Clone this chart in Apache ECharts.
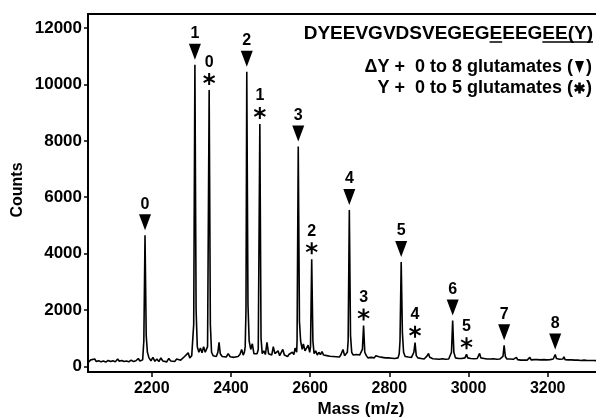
<!DOCTYPE html>
<html>
<head>
<meta charset="utf-8">
<script src="https://cdn.jsdelivr.net/npm/echarts@6/dist/echarts.min.js"></script>
<style>html,body{margin:0;padding:0;background:#fff}#c{width:596px;height:417px}</style>
</head>
<body>
<div id="c"></div>
<script>
// ---- data ----
const massTicks = [2200, 2400, 2600, 2800, 3000, 3200];
const countTicks = [0, 2000, 4000, 6000, 8000, 10000, 12000];

// ΔY + n glutamates (triangles)
const triMass   = [2183, 2309, 2440, 2570, 2699, 2830, 2960, 3090, 3219];
const triCounts = [4650, 10700, 10450, 7800, 5550, 3700, 1630, 750, 420];
const triLabels = ['0', '1', '2', '3', '4', '5', '6', '7', '8'];

// Y + n glutamates (asterisks)
const starMass   = [2345, 2473, 2604, 2735, 2865, 2995];
const starCounts = [9800, 8600, 3800, 1450, 840, 430];
const starLabels = ['0', '1', '2', '3', '4', '5'];

// spectrum trace [mass, counts]
const spectrum = [
[2040,150],[2046,230],[2050,180],[2056,260],[2060,170],[2066,200],[2072,160],[2078,190],[2084,150],[2090,210],[2096,170],[2102,200],[2108,160],[2114,260],[2118,180],[2124,210],[2130,170],[2136,190],[2142,160],[2148,220],[2154,170],[2160,200],[2166,280],[2170,190],[2174,220],
[2177,230],[2180,900],[2183,4650],[2186,1100],[2189,500],[2193,300],
[2198,200],[2203,320],[2208,180],[2213,260],[2218,170],[2223,300],[2228,190],[2233,240],[2238,160],[2243,280],[2248,190],[2253,230],[2258,170],[2263,260],[2268,190],[2273,220],[2278,200],[2283,350],[2288,280],[2292,480],[2296,300],[2301,380],
[2304,450],[2306,1500],[2309,10700],[2312,2000],[2315,700],[2319,500],[2323,650],[2327,480],[2331,700],[2335,500],[2339,520],
[2341,700],[2345,9800],[2348,1500],[2351,500],[2355,380],[2359,450],[2363,350],[2367,500],[2370,850],[2373,450],[2378,350],[2383,420],[2388,330],[2393,450],[2398,340],[2403,400],[2408,320],[2413,380],[2418,350],[2423,430],[2427,600],[2431,400],[2434,500],
[2436,700],[2438,2000],[2440,10450],[2443,2200],[2446,900],[2450,600],[2454,800],[2458,450],[2462,500],[2466,450],
[2469,600],[2473,8600],[2476,1000],[2479,450],[2483,550],[2487,420],[2491,850],[2495,450],[2499,500],[2503,400],[2507,700],[2511,450],[2515,400],[2519,550],[2523,380],[2527,450],[2531,600],[2535,400],[2539,450],[2543,350],[2547,430],[2551,380],[2555,500],[2559,420],[2562,650],[2566,500],
[2567,900],[2570,7800],[2573,1600],[2576,900],[2580,600],[2583,800],[2587,550],[2591,650],[2595,750],[2599,500],[2601,700],
[2604,3800],[2607,900],[2610,450],[2614,550],[2618,400],[2622,500],[2626,420],[2630,520],[2634,400],[2638,450],[2642,380],[2646,430],[2650,360],[2654,400],[2658,350],[2662,400],[2666,340],[2670,380],[2674,330],[2678,420],[2683,600],[2687,380],[2691,420],[2694,500],[2696,900],
[2699,5550],[2702,1100],[2705,500],[2709,400],[2713,350],[2717,420],[2721,350],[2725,400],[2729,380],[2732,600],
[2735,1450],[2738,500],[2742,380],[2746,300],[2750,350],[2754,320],[2758,360],[2762,300],[2766,380],[2770,450],[2774,340],[2778,380],[2782,320],[2786,350],[2790,300],[2794,340],[2798,300],[2802,330],[2806,290],[2810,320],[2814,280],[2818,350],[2822,300],[2825,450],[2827,900],
[2830,3700],[2833,1200],[2836,500],[2840,350],[2844,300],[2848,330],[2852,280],[2856,320],[2860,300],[2862,500],
[2865,840],[2868,380],[2872,300],[2876,320],[2880,280],[2884,300],[2888,260],[2892,300],[2896,380],[2899,460],[2902,320],[2906,300],[2910,270],[2914,300],[2918,260],[2922,290],[2926,250],[2930,300],[2934,270],[2938,280],[2942,250],[2946,290],[2950,260],[2954,300],[2957,500],
[2960,1630],[2963,500],[2967,300],[2971,260],[2975,280],[2979,250],[2983,280],[2987,260],[2991,300],
[2995,430],[2998,300],[3002,260],[3006,280],[3010,250],[3014,270],[3018,240],[3022,280],[3026,350],[3028,460],[3031,300],[3035,260],[3039,280],[3043,240],[3047,260],[3051,230],[3055,260],[3059,240],[3063,270],[3067,230],[3071,250],[3075,230],[3079,260],[3083,240],[3087,350],
[3090,750],[3093,350],[3097,260],[3101,240],[3105,260],[3109,230],[3113,250],[3117,230],[3121,320],[3124,240],[3128,250],[3132,220],[3136,240],[3140,220],[3144,250],[3148,220],[3152,240],[3155,320],[3158,230],[3162,220],[3166,240],[3170,210],[3174,240],[3178,210],[3182,230],[3186,210],[3190,240],[3194,220],[3198,230],[3202,210],[3206,240],[3210,220],[3214,260],
[3219,420],[3222,280],[3226,230],[3230,250],[3234,220],[3238,260],[3241,340],[3244,240],[3248,220],[3252,230],[3256,210],[3260,230],[3264,200],[3268,220],[3272,200],[3276,220],[3280,200],[3284,210],[3288,200],[3292,220],[3296,200],[3300,210],[3304,190],[3308,210],[3312,200],[3316,210],[3320,190],[3325,200]
];

const titleText = 'DYEEVGVDSVEGEGEEEGEE(Y)';
const legendTriText = '\u0394Y +  0 to 8 glutamates (';
const legendStarText = 'Y +  0 to 5 glutamates (';

// ---- chart ----
const FONT = '"Liberation Sans", Arial, sans-serif';
const chart = echarts.init(document.getElementById('c'), null, {renderer: 'canvas'});

const asteriskPath = 'path://M42 0 L58 0 L58 100 L42 100 Z M2.7 31.9 L10.7 18.1 L97.3 68.1 L89.3 81.9 Z M10.7 81.9 L2.7 68.1 L89.3 18.1 L97.3 31.9 Z';

// measure text for underlines / legend symbols
const ctx = document.createElement('canvas').getContext('2d');
const titleFont = 'bold 19px ' + FONT;
const legendFont = 'bold 18px ' + FONT;
const mw = (s, f) => { ctx.font = f; return ctx.measureText(s).width; };
const titleRight = 593;
const titleLeft = titleRight - mw(titleText, titleFont);
const u1a = titleLeft + mw('DYEEVGVDSVEGEG', titleFont);
const u1b = titleLeft + mw('DYEEVGVDSVEGEGE', titleFont);
const u2a = titleLeft + mw('DYEEVGVDSVEGEGEEEG', titleFont);
const uY = 42;

const legRight = 592;
const parW = mw(')', legendFont);
const symGap = 13;
const symCx = legRight - parW - symGap / 2;
const openRight = legRight - parW - symGap;
const l2y = 67, l3y = 88;

const starArm = (ang) => {
  const dx = 5.5 * Math.cos(ang), dy = 5.5 * Math.sin(ang);
  return {type: 'line', shape: {x1: symCx - dx, y1: l3y - dy, x2: symCx + dx, y2: l3y + dy},
    style: {stroke: '#000', lineWidth: 2.6}};
};

const option = {
  backgroundColor: '#fff',
  animation: false,
  grid: {left: 88, right: 0, top: 14, bottom: 45, containLabel: false},
  xAxis: [{
    type: 'value', min: 2039, max: 3322, position: 'bottom',
    axisLine: {show: true, onZero: false, lineStyle: {color: '#000', width: 2}},
    axisTick: {show: true, length: 5, customValues: massTicks, lineStyle: {color: '#000', width: 1.5}},
    axisLabel: {customValues: massTicks, formatter: v => String(v), color: '#000', fontFamily: FONT, fontWeight: 'bold', fontSize: 16, margin: 9},
    splitLine: {show: false}
  }, {
    type: 'value', min: 2039, max: 3322, position: 'top',
    axisLine: {show: true, onZero: false, lineStyle: {color: '#000', width: 2}},
    axisTick: {show: false}, axisLabel: {show: false}, splitLine: {show: false}
  }],
  yAxis: {
    type: 'value', min: -200, max: 12500,
    axisLine: {show: true, onZero: false, lineStyle: {color: '#000', width: 2}},
    axisTick: {show: true, length: 4, customValues: countTicks, lineStyle: {color: '#000', width: 1.5}},
    axisLabel: {customValues: countTicks, formatter: v => String(v), color: '#000', fontFamily: FONT, fontWeight: 'bold', fontSize: 17, margin: 6},
    splitLine: {show: false}
  },
  series: [{
    type: 'line', data: spectrum, showSymbol: false, symbol: 'none',
    lineStyle: {color: '#000', width: 1.6}, z: 2
  }, {
    type: 'scatter',
    data: triMass.map((m, i) => [m, triCounts[i]]),
    symbol: 'triangle', symbolRotate: 180, symbolSize: [12, 16], symbolOffset: [0, -13],
    itemStyle: {color: '#000', opacity: 1},
    label: {show: true, position: 'top', distance: 2, formatter: p => triLabels[p.dataIndex],
      color: '#000', fontFamily: FONT, fontWeight: 'bold', fontSize: 16},
    z: 3
  }, {
    type: 'scatter',
    data: starMass.map((m, i) => [m, starCounts[i]]),
    symbol: asteriskPath, symbolSize: [12, 12], symbolOffset: [0, -11],
    itemStyle: {color: '#000', opacity: 1},
    label: {show: true, position: 'top', distance: 3, formatter: p => starLabels[p.dataIndex],
      color: '#000', fontFamily: FONT, fontWeight: 'bold', fontSize: 16},
    z: 3
  }],
  graphic: [
    {type: 'text', x: 18, y: 190, rotation: Math.PI / 2,
      style: {text: 'Counts', font: 'bold 16px ' + FONT, fill: '#000', align: 'center', verticalAlign: 'middle'}},
    {type: 'text', x: 361, y: 409,
      style: {text: 'Mass (m/z)', font: 'bold 17px ' + FONT, fill: '#000', align: 'center', verticalAlign: 'middle'}},
    {type: 'text', x: titleRight, y: 34,
      style: {text: titleText, font: titleFont, fill: '#000', align: 'right', verticalAlign: 'middle'}},
    {type: 'line', shape: {x1: u1a, y1: uY, x2: u1b, y2: uY}, style: {stroke: '#000', lineWidth: 1.5}},
    {type: 'line', shape: {x1: u2a, y1: uY, x2: titleRight, y2: uY}, style: {stroke: '#000', lineWidth: 1.5}},
    {type: 'text', x: openRight, y: l2y,
      style: {text: legendTriText, font: legendFont, fill: '#000', align: 'right', verticalAlign: 'middle'}},
    {type: 'polygon', shape: {points: [[symCx - 4.5, l2y - 6], [symCx + 4.5, l2y - 6], [symCx, l2y + 6]]}, style: {fill: '#000'}},
    {type: 'text', x: legRight, y: l2y,
      style: {text: ')', font: legendFont, fill: '#000', align: 'right', verticalAlign: 'middle'}},
    {type: 'text', x: openRight, y: l3y,
      style: {text: legendStarText, font: legendFont, fill: '#000', align: 'right', verticalAlign: 'middle'}},
    starArm(Math.PI / 2), starArm(Math.PI / 6), starArm(-Math.PI / 6),
    {type: 'text', x: legRight, y: l3y,
      style: {text: ')', font: legendFont, fill: '#000', align: 'right', verticalAlign: 'middle'}}
  ]
};
chart.setOption(option);
</script>
</body>
</html>
